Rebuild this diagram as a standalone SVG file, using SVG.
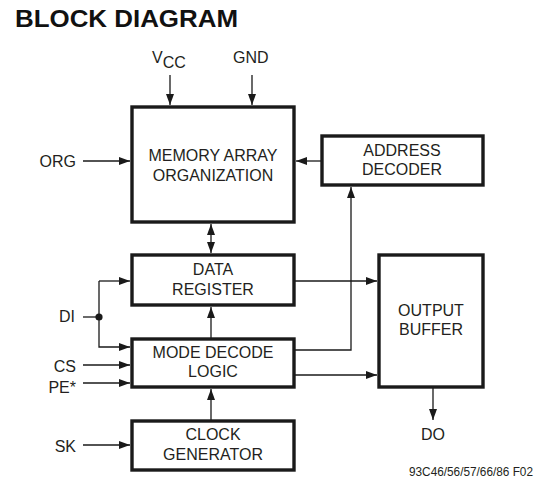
<svg xmlns="http://www.w3.org/2000/svg" width="551" height="499" viewBox="0 0 551 499">
<style>
  .box { fill: #fff; stroke: #1a1a1a; stroke-width: 3.4; }
  .lbl { font-family: "Liberation Sans", Arial, sans-serif; font-size: 16px; fill: #231f20; text-anchor: middle; }
  .pin { font-family: "Liberation Sans", Arial, sans-serif; font-size: 16px; fill: #231f20; }
  .wire { fill: none; stroke: #1a1a1a; stroke-width: 1.3; }
  .arr { marker-end: url(#ah); }
</style>
<defs>
  <marker id="ah" markerUnits="userSpaceOnUse" markerWidth="11" markerHeight="8" refX="11" refY="4" orient="auto-start-reverse">
    <path d="M0,0 L11,4 L0,8 z" fill="#1a1a1a"/>
  </marker>
</defs>
<rect width="551" height="499" fill="#fff"/>
<text x="15" y="27" font-family="Liberation Sans, Arial, sans-serif" font-weight="bold" font-size="24" fill="#111" textLength="223" lengthAdjust="spacingAndGlyphs">BLOCK DIAGRAM</text>

<g id="connectors">
  <line class="wire arr" x1="170" y1="75" x2="170" y2="105"/>
  <line class="wire arr" x1="252" y1="75" x2="252" y2="105"/>
  <line class="wire arr" x1="83" y1="161" x2="130" y2="161"/>
  <line class="wire arr" x1="322" y1="161" x2="296" y2="161"/>
  <line class="wire arr" x1="211" y1="224" x2="211" y2="253" marker-start="url(#ah)"/>
  <line class="wire arr" x1="294" y1="281" x2="377" y2="281"/>
  <polyline class="wire arr" points="294,350 351,350 351,187"/>
  <line class="wire arr" x1="294" y1="375" x2="377" y2="375"/>
  <line class="wire arr" x1="211" y1="339" x2="211" y2="307"/>
  <line class="wire arr" x1="211" y1="421" x2="211" y2="389"/>
  <line class="wire" x1="83" y1="317" x2="99" y2="317"/>
  <polyline class="wire arr" points="99,281 99,347 130,347"/>
  <line class="wire arr" x1="99" y1="281" x2="130" y2="281"/>
  <circle cx="99" cy="317" r="3.6" fill="#1a1a1a"/>
  <line class="wire arr" x1="83" y1="365" x2="130" y2="365"/>
  <line class="wire arr" x1="83" y1="383" x2="130" y2="383"/>
  <line class="wire arr" x1="83" y1="445" x2="130" y2="445"/>
  <line class="wire arr" x1="433" y1="387" x2="433" y2="420"/>
</g>

<g id="memory-array">
  <rect class="box" x="132" y="107" width="162" height="115"/>
  <text class="lbl" x="213" y="161">MEMORY ARRAY</text>
  <text class="lbl" x="213" y="181">ORGANIZATION</text>
</g>
<g id="address-decoder">
  <rect class="box" x="322" y="136" width="161" height="49"/>
  <text class="lbl" x="402" y="156">ADDRESS</text>
  <text class="lbl" x="402" y="175">DECODER</text>
</g>
<g id="data-register">
  <rect class="box" x="132" y="255" width="162" height="50"/>
  <text class="lbl" x="213" y="275">DATA</text>
  <text class="lbl" x="213" y="295">REGISTER</text>
</g>
<g id="mode-decode">
  <rect class="box" x="132" y="339" width="162" height="48"/>
  <text class="lbl" x="213" y="358">MODE DECODE</text>
  <text class="lbl" x="213" y="377">LOGIC</text>
</g>
<g id="clock-generator">
  <rect class="box" x="132" y="421" width="162" height="49"/>
  <text class="lbl" x="213" y="440">CLOCK</text>
  <text class="lbl" x="213" y="460">GENERATOR</text>
</g>
<g id="output-buffer">
  <rect class="box" x="379" y="255" width="104" height="132"/>
  <text class="lbl" x="431" y="316">OUTPUT</text>
  <text class="lbl" x="431" y="335">BUFFER</text>
</g>

<g id="pins">
  <text class="pin" x="152" y="63">V<tspan dy="5">CC</tspan></text>
  <text class="pin" x="233" y="63">GND</text>
  <text class="pin" x="76" y="167" text-anchor="end">ORG</text>
  <text class="pin" x="75" y="322" text-anchor="end">DI</text>
  <text class="pin" x="76" y="372" text-anchor="end">CS</text>
  <text class="pin" x="76" y="393" text-anchor="end">PE*</text>
  <text class="pin" x="76" y="452" text-anchor="end">SK</text>
  <text class="pin" x="433" y="440" text-anchor="middle">DO</text>
  <text x="409" y="476" font-family="Liberation Sans, Arial, sans-serif" font-size="12" fill="#231f20" textLength="124" lengthAdjust="spacingAndGlyphs">93C46/56/57/66/86 F02</text>
</g>
</svg>
